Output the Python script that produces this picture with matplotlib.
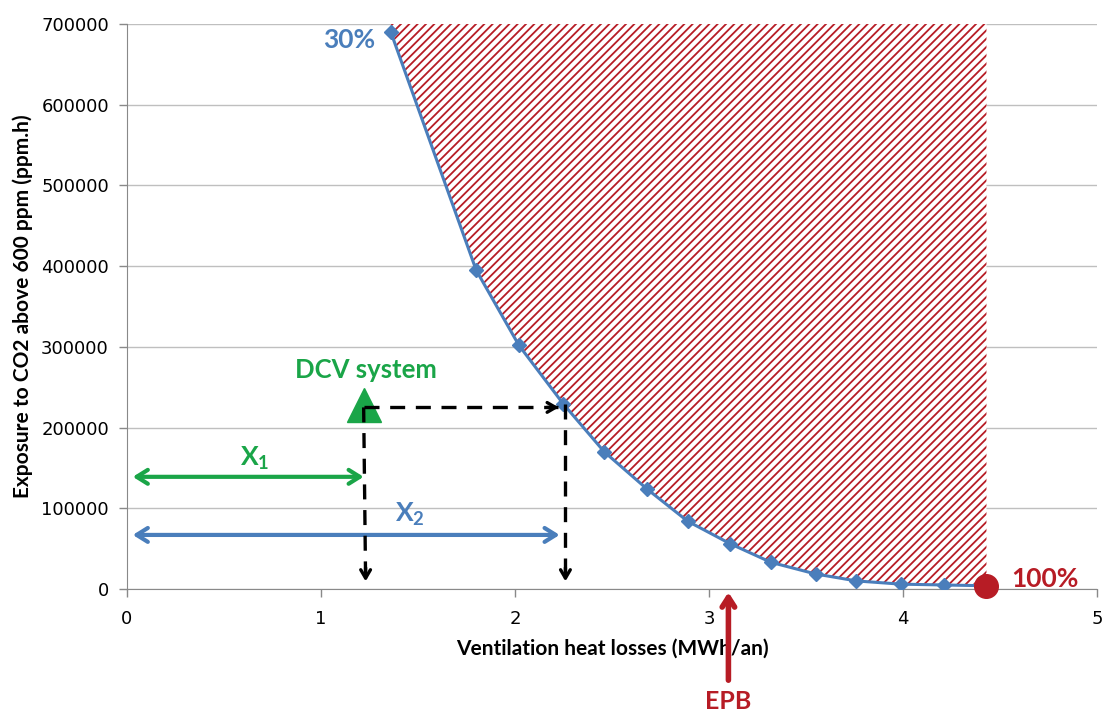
import matplotlib
matplotlib.use("Agg")
import matplotlib.pyplot as plt

plt.rcParams['hatch.linewidth'] = 1.3
plt.rcParams['mathtext.fontset'] = 'custom'
plt.rcParams['mathtext.rm'] = 'Lato:bold'

# Data
heat_loss = [1.36, 1.80, 2.02, 2.25, 2.46, 2.68, 2.89, 3.11, 3.32, 3.55, 3.76, 3.99, 4.21, 4.43]
exposure = [690000, 395000, 302000, 229000, 170000, 124000, 84000, 56000, 33000, 18600, 10000, 6000, 5000, 4000]

dcv_x, dcv_y = 1.22, 228000
epb_x = 3.10
x1_y = 139000
x2_y = 67000

blue = "#4a7ebb"
green = "#1aa548"
red = "#b71c25"
lab_font = "Lato"

fig = plt.figure(figsize=(11.03, 7.13), dpi=100)
ax = fig.add_axes([0.1151, 0.1739, 0.8795, 0.7924])

# hatched zone above the curve
ax.fill_between(heat_loss, exposure, 700000, facecolor="white", edgecolor=red,
                hatch="////", linewidth=0, zorder=1)

# curve
ax.plot(heat_loss[:-1], exposure[:-1], color=blue, lw=2.2, marker="D", ms=7.5, zorder=3)
ax.plot(heat_loss[-2:], exposure[-2:], color=blue, lw=2.2, zorder=3)
ax.plot(heat_loss[-1], exposure[-1], "o", color=red, ms=17, zorder=6, clip_on=False)

# DCV system point
ax.plot(dcv_x, dcv_y, "^", color=green, ms=25, zorder=4)
ax.text(dcv_x + 0.01, 271000, "DCV system", color=green, fontsize=18.5,
        fontweight="bold", family=lab_font, ha="center", va="center")

# dashed projections
match_x, match_y = heat_loss[3], exposure[3]
dash = dict(color="black", lw=2.4, dashes=(4.5, 3.2), zorder=5)
ax.plot([dcv_x, match_x - 0.03], [dcv_y - 3000, dcv_y - 3000], **dash)
ax.plot([dcv_x, dcv_x + 0.01], [dcv_y - 3000, 12000], **dash)
ax.plot([match_x + 0.01, match_x + 0.01], [match_y, 12000], **dash)
head = dict(arrowstyle="->,head_length=0.6,head_width=0.35", lw=2.4, color="black")
ax.annotate("", xy=(match_x - 0.01, dcv_y - 3000), xytext=(match_x - 0.1, dcv_y - 3000),
            arrowprops=head, zorder=5)
ax.annotate("", xy=(dcv_x + 0.01, 6000), xytext=(dcv_x + 0.01, 30000), arrowprops=head, zorder=5)
ax.annotate("", xy=(match_x + 0.01, 6000), xytext=(match_x + 0.01, 30000), arrowprops=head, zorder=5)

# X1 / X2 arrows
dbl = "<->,head_length=0.8,head_width=0.5"
ax.annotate("", xy=(0.03, x1_y), xytext=(dcv_x, x1_y),
            arrowprops=dict(arrowstyle=dbl, lw=3, color=green, shrinkA=0, shrinkB=0))
ax.annotate("", xy=(0.03, x2_y), xytext=(match_x - 0.02, x2_y),
            arrowprops=dict(arrowstyle=dbl, lw=3, color=blue, shrinkA=0, shrinkB=0))
ax.text(0.66, 162000, r"$\mathrm{X_1}$", color=green, fontsize=19, ha="center", va="center")
ax.text(1.46, 92000, r"$\mathrm{X_2}$", color=blue, fontsize=19, ha="center", va="center")

# labels on curve ends
ax.text(1.28, 680000, "30%", color=blue, fontsize=19, fontweight="bold",
        family=lab_font, ha="right", va="center")
ax.text(4.56, 12000, "100%", color=red, fontsize=19, fontweight="bold",
        family=lab_font, ha="left", va="center")

# EPB arrow below axis
ax.annotate("", xy=(epb_x, -4000), xytext=(epb_x, -113000), annotation_clip=False,
            arrowprops=dict(arrowstyle="->,head_length=0.7,head_width=0.45", lw=4,
                            color=red, shrinkA=0, shrinkB=0))
ax.text(epb_x, -125000, "EPB", color=red, fontsize=18, fontweight="bold",
        family=lab_font, ha="center", va="top", clip_on=False)

ax.set_xlim(0, 5)
ax.set_ylim(0, 700000)
ax.set_xticks(range(0, 6))
ax.set_yticks(range(0, 700001, 100000))
ax.yaxis.grid(True, color="#bfbfbf", lw=1)
ax.set_axisbelow(True)
for s in ["top", "right"]:
    ax.spines[s].set_visible(False)
for s in ["left", "bottom"]:
    ax.spines[s].set_color("#898989")
ax.tick_params(colors="#898989", labelcolor="black", labelsize=13, length=6, width=1)
ax.tick_params(axis="x", pad=9)
ax.tick_params(axis="y", pad=7)

ax.set_xlabel("Ventilation heat losses (MWh/an)", fontsize=15, fontweight="bold",
              family=lab_font, labelpad=8)
ax.set_ylabel("Exposure to CO2 above 600 ppm (ppm.h)", fontsize=15, fontweight="bold",
              family=lab_font, labelpad=6)

plt.savefig("out.png")
